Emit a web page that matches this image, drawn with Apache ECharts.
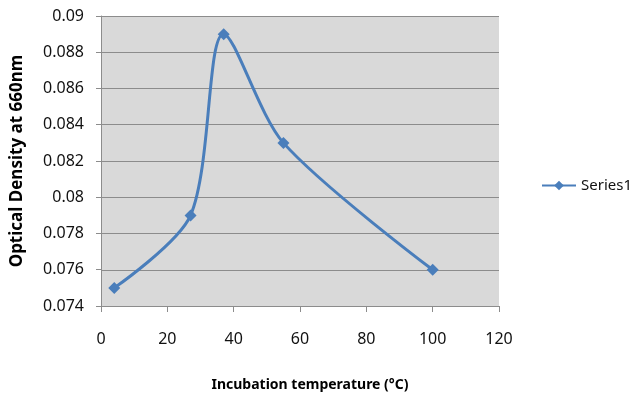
<html><head><meta charset='utf-8'>
<script src='https://cdn.jsdelivr.net/npm/echarts@6/dist/echarts.min.js'></script>
<style>body{margin:0;background:#fff}#c{width:639px;height:401px}</style>
</head><body><div id='c'></div><script>
// values
var temps = [4, 27, 37, 55, 100];
var density = [0.075, 0.079, 0.089, 0.083, 0.076];
var seriesName = 'Series1';

var pts = [];
for (var i = 0; i < temps.length; i++) pts.push([temps[i], density[i]]);

var font = "'Noto Sans', 'Liberation Sans', sans-serif";
var chart = echarts.init(document.getElementById('c'));
chart.setOption({
    animation: false,
    grid: { left: 101, right: 140, top: 16, bottom: 95, show: true, backgroundColor: '#d9d9d9', borderWidth: 0 },
    legend: {
        left: 536, top: 173, orient: 'vertical', itemWidth: 34, itemHeight: 12, itemGap: 4,
        textStyle: { fontFamily: font, fontSize: 15, color: '#111' },
        data: [seriesName]
    },
    xAxis: {
        type: 'value', min: 0, max: 120, interval: 20,
        name: 'Incubation temperature (°C)', nameLocation: 'middle', nameGap: 72,
        nameTextStyle: { fontFamily: font, fontSize: 14, fontWeight: 'bold', color: '#000', padding: [0, 0, 0, 20] },
        axisLine: { show: true, lineStyle: { color: '#8c8c8c' } },
        axisTick: { show: true, length: 6, lineStyle: { color: '#8c8c8c' } },
        axisLabel: { margin: 25, fontFamily: font, fontSize: 16, color: '#111' },
        splitLine: { show: false }
    },
    yAxis: {
        type: 'value', min: 0.074, max: 0.09, interval: 0.002,
        name: 'Optical Density at 660nm', nameLocation: 'middle', nameGap: 75,
        nameTextStyle: { fontFamily: font, fontSize: 17, fontWeight: 'bold', color: '#000' },
        axisLine: { show: true, lineStyle: { color: '#8c8c8c' } },
        axisTick: { show: true, length: 5, lineStyle: { color: '#8c8c8c' } },
        axisLabel: { margin: 17, fontFamily: font, fontSize: 16, color: '#111',
            formatter: function (v) { return String(parseFloat(v.toFixed(3))); } },
        splitLine: { show: true, lineStyle: { color: '#8c8c8c', width: 1 } }
    },
    series: [{
        name: seriesName, type: 'line', data: pts, smooth: 0.3,
        symbol: 'diamond', symbolSize: 12,
        lineStyle: { color: '#4a7ebb', width: 3 },
        itemStyle: { color: '#4a7ebb' }
    }]
});
</script></body></html>
